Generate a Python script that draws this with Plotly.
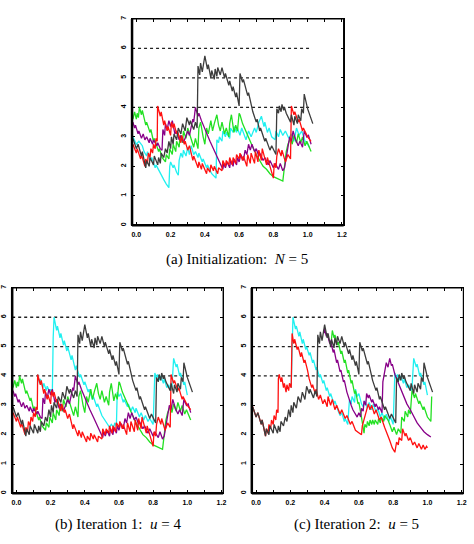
import plotly.graph_objects as go

# ---------------- data ----------------
gray_path = [(-0.02,2.95),(0.0,2.6),(0.01,2.75),(0.03,2.35),(0.035,2.5),(0.055,1.95),(0.06,2.2),(0.075,2.0),(0.08,2.3),(0.1,2.05),(0.105,2.35),(0.125,2.05),(0.13,2.3),(0.14,2.1),(0.145,2.45),(0.16,2.3),(0.17,2.6),(0.18,2.45),(0.19,2.85),(0.2,2.6),(0.205,3.0),(0.215,2.75),(0.22,3.1),(0.235,2.9),(0.245,3.3),(0.26,3.1),(0.27,3.45),(0.285,3.2),(0.295,3.65),(0.31,3.4),(0.315,3.55),(0.335,3.25),(0.345,3.5),(0.355,3.3),(0.36,5.4),(0.37,5.1),(0.375,5.5),(0.385,5.2),(0.4,5.75),(0.415,5.3),(0.42,5.45),(0.435,5.0),(0.44,5.25),(0.455,4.95),(0.46,5.3),(0.47,5.05),(0.475,5.35),(0.49,5.1),(0.5,5.35),(0.515,5.0),(0.52,5.15),(0.54,4.75),(0.545,4.9),(0.56,4.55),(0.565,4.7),(0.58,4.35),(0.585,4.5),(0.6,4.05),(0.605,5.15),(0.62,4.85),(0.625,4.95),(0.65,4.4),(0.655,4.5),(0.68,3.85),(0.7,3.5),(0.705,3.6),(0.72,3.2),(0.725,3.3),(0.75,2.85),(0.755,2.95),(0.78,2.55),(0.79,2.7),(0.815,2.4),(0.82,3.95),(0.83,3.8),(0.835,4.05),(0.845,3.85),(0.85,4.1),(0.86,3.9),(0.865,4.0),(0.875,3.8),(0.9,3.5),(0.905,3.75),(0.92,3.4),(0.925,3.7),(0.94,3.45),(0.945,3.75),(0.96,3.55),(0.965,3.95),(0.975,3.8),(0.98,4.45),(1.0,3.95),(1.03,3.45)]

red_path = [(-0.02,2.75),(0.0,2.45),(0.005,2.6),(0.025,2.25),(0.03,2.4),(0.05,2.0),(0.055,2.25),(0.065,2.1),(0.07,2.45),(0.08,2.3),(0.085,2.6),(0.095,2.45),(0.1,2.75),(0.11,2.6),(0.115,2.95),(0.122,2.85),(0.124,4.05),(0.14,3.7),(0.145,3.85),(0.16,3.4),(0.165,3.55),(0.18,3.2),(0.185,3.35),(0.2,3.05),(0.205,3.5),(0.215,3.3),(0.22,3.45),(0.235,3.1),(0.24,3.2),(0.26,2.8),(0.265,3.05),(0.28,2.75),(0.285,2.85),(0.3,2.55),(0.31,2.7),(0.33,2.2),(0.335,2.35),(0.36,1.95),(0.365,2.15),(0.38,1.9),(0.385,2.1),(0.41,1.75),(0.415,1.95),(0.43,1.8),(0.435,2.05),(0.45,1.85),(0.455,2.0),(0.475,1.75),(0.48,1.95),(0.5,1.85),(0.505,2.2),(0.52,2.0),(0.525,2.2),(0.54,2.05),(0.545,2.3),(0.56,2.05),(0.565,2.3),(0.58,2.1),(0.585,2.4),(0.6,2.25),(0.605,2.45),(0.62,2.2),(0.625,2.35),(0.645,2.0),(0.65,2.4),(0.665,2.1),(0.67,2.45),(0.69,2.1),(0.695,2.5),(0.71,2.15),(0.715,2.55),(0.73,2.2),(0.735,2.6),(0.76,2.05),(0.765,2.3),(0.79,1.8),(0.8,1.6),(0.805,2.1),(0.815,1.95),(0.82,2.35),(0.83,2.6),(0.845,2.35),(0.85,2.55),(0.87,2.15),(0.885,2.4),(0.9,2.25),(0.905,4.05),(0.92,3.75),(0.925,3.85),(0.945,3.5),(0.95,3.6),(0.97,3.2),(0.975,3.3),(1.0,3.0),(1.02,2.85)]

green_path = [(-0.02,3.6),(-0.01,3.85),(0.0,3.6),(0.005,3.8),(0.012,3.65),(0.018,4.0),(0.03,3.75),(0.035,3.9),(0.055,3.4),(0.06,3.5),(0.08,3.15),(0.085,3.25),(0.1,2.85),(0.105,2.95),(0.13,2.5),(0.135,2.6),(0.15,2.3),(0.17,2.15),(0.175,2.4),(0.19,2.25),(0.195,2.6),(0.21,2.4),(0.215,2.75),(0.23,2.5),(0.235,2.85),(0.25,2.65),(0.255,3.05),(0.27,2.8),(0.275,3.2),(0.29,2.95),(0.3,3.3),(0.32,2.9),(0.335,2.65),(0.345,2.95),(0.36,2.6),(0.365,3.3),(0.375,3.5),(0.39,3.0),(0.4,2.75),(0.41,3.3),(0.42,3.1),(0.435,3.55),(0.445,3.2),(0.455,3.45),(0.47,3.75),(0.48,3.4),(0.49,3.2),(0.5,3.5),(0.515,3.1),(0.525,3.3),(0.54,3.0),(0.545,3.45),(0.555,3.75),(0.565,3.35),(0.57,3.15),(0.58,3.4),(0.59,3.2),(0.6,3.8),(0.605,3.75),(0.62,3.45),(0.635,3.25),(0.65,3.0),(0.665,2.85),(0.68,2.65),(0.7,2.4),(0.72,2.2),(0.74,2.0),(0.76,1.9),(0.78,1.75),(0.8,1.65),(0.82,1.6),(0.84,1.55),(0.855,1.5),(0.865,2.0),(0.875,2.5),(0.885,2.75),(0.9,2.95),(0.91,2.75),(0.92,3.05),(0.935,2.8),(0.945,3.1),(0.96,2.8),(0.97,3.0),(0.985,2.7),(0.995,2.85),(1.02,2.5)]

purple_path = [(-0.02,3.5),(-0.01,3.3),(-0.005,3.4),(0.01,3.1),(0.015,3.2),(0.03,2.95),(0.04,3.1),(0.05,2.9),(0.06,3.0),(0.075,2.8),(0.08,2.95),(0.095,2.75),(0.1,2.9),(0.12,2.7),(0.125,2.8),(0.14,2.6),(0.15,2.55),(0.155,3.25),(0.165,3.05),(0.17,3.45),(0.18,3.25),(0.19,3.55),(0.2,3.35),(0.21,3.55),(0.225,3.1),(0.235,3.2),(0.25,2.9),(0.26,3.05),(0.275,2.8),(0.29,3.05),(0.3,3.2),(0.31,3.05),(0.32,3.4),(0.33,3.6),(0.335,3.5),(0.345,4.0),(0.36,3.7),(0.365,3.8),(0.38,3.55),(0.39,3.4),(0.41,3.15),(0.43,2.85),(0.45,2.6),(0.47,2.35),(0.48,2.2),(0.495,2.0),(0.505,1.9),(0.51,2.1),(0.52,1.95),(0.53,2.15),(0.545,1.95),(0.55,2.2),(0.565,2.0),(0.57,2.25),(0.585,2.05),(0.59,2.3),(0.6,2.15),(0.61,2.4),(0.625,2.2),(0.635,2.55),(0.645,2.4),(0.655,2.75),(0.665,2.55),(0.675,2.75),(0.69,2.5),(0.7,2.6),(0.715,2.35),(0.72,2.45),(0.74,2.2),(0.75,2.3),(0.77,2.05),(0.78,2.2),(0.8,1.95),(0.81,2.1),(0.83,1.9),(0.84,2.1),(0.855,1.85),(0.865,1.95),(0.875,2.35),(0.885,2.75),(0.895,3.0),(0.905,2.85),(0.915,3.2),(0.93,2.9),(0.945,2.7),(0.955,2.85),(0.97,2.65),(0.98,3.2),(0.995,3.0),(1.005,3.05),(1.02,2.75)]

cyan_a_path = [(-0.02,3.0),(0.0,2.75),(0.015,2.85),(0.035,2.7),(0.045,2.5),(0.06,2.35),(0.065,2.5),(0.08,2.2),(0.09,2.3),(0.11,1.95),(0.115,2.05),(0.14,1.75),(0.16,1.55),(0.175,1.4),(0.19,1.28),(0.195,2.0),(0.2,2.15),(0.215,1.95),(0.22,2.05),(0.235,1.8),(0.245,1.7),(0.25,2.2),(0.26,2.45),(0.27,2.3),(0.275,2.55),(0.29,2.35),(0.3,2.65),(0.31,2.4),(0.32,2.7),(0.335,2.4),(0.345,2.5),(0.36,2.3),(0.365,2.45),(0.385,2.15),(0.39,2.25),(0.41,1.95),(0.415,2.05),(0.44,1.75),(0.455,1.65),(0.465,1.6),(0.47,2.9),(0.48,2.8),(0.485,3.0),(0.5,2.85),(0.505,3.2),(0.52,3.0),(0.525,3.15),(0.545,2.95),(0.55,3.3),(0.565,3.15),(0.57,3.35),(0.585,3.15),(0.59,3.3),(0.605,3.05),(0.615,3.3),(0.63,3.05),(0.64,2.9),(0.655,3.2),(0.67,3.0),(0.69,3.3),(0.7,3.15),(0.715,3.5),(0.73,3.7),(0.745,3.35),(0.75,3.5),(0.765,3.15),(0.775,3.3),(0.79,3.0),(0.81,2.9),(0.815,3.2),(0.83,3.0),(0.84,3.25),(0.855,3.05),(0.87,3.2),(0.89,2.95),(0.905,3.1),(0.92,2.85),(0.935,3.3),(0.95,3.05),(0.965,3.2),(0.985,2.85),(1.0,2.75),(1.01,2.65)]

cyan_tail = [(0.81,4.1),(0.82,3.9),(0.825,4.05),(0.84,3.85),(0.845,4.0),(0.86,3.75),(0.865,3.9),(0.88,3.6),(0.89,3.7),(0.905,3.5),(0.91,3.6),(0.92,4.6),(0.935,4.3),(0.94,4.4),(0.955,4.0),(0.96,4.1),(0.98,3.7),(0.985,3.8),(1.0,3.35)]

cyan_b_head = [(0.124,4.05),(0.135,3.75),(0.14,3.9),(0.155,3.6),(0.16,3.75),(0.175,3.5),(0.18,3.65),(0.195,3.45),(0.2,3.55),(0.21,3.4),(0.215,5.3),(0.22,6.0),(0.235,5.55),(0.24,5.7),(0.255,5.3),(0.26,5.45),(0.275,5.05),(0.28,5.2),(0.295,4.85),(0.3,5.0),(0.32,4.55),(0.325,4.7),(0.345,4.2),(0.35,4.35),(0.37,3.95),(0.375,4.05),(0.395,3.7),(0.4,3.8),(0.42,3.45),(0.425,3.55),(0.445,3.2),(0.45,3.3),(0.47,2.95),(0.475,3.05),(0.5,2.65),(0.52,2.45),(0.535,2.3),(0.545,2.25),(0.555,2.35),(0.57,2.25),(0.575,2.4),(0.585,2.3),(0.59,3.45),(0.6,3.3),(0.61,3.4),(0.625,3.1),(0.63,3.2),(0.65,2.95),(0.655,3.05),(0.67,2.8),(0.68,2.95),(0.695,2.75),(0.7,2.9),(0.72,2.6),(0.73,2.75),(0.745,2.5),(0.755,2.65),(0.77,2.45),(0.78,2.55),(0.8,2.35)]

red_c_path = [(-0.02,2.95),(0.0,2.6),(0.01,2.75),(0.03,2.35),(0.035,2.5),(0.055,1.95),(0.06,2.2),(0.07,2.05),(0.075,2.35),(0.085,2.2),(0.09,2.5),(0.1,2.35),(0.105,2.65),(0.115,2.5),(0.12,2.85),(0.128,2.75),(0.13,3.9),(0.135,4.05),(0.145,3.8),(0.15,3.95),(0.16,3.6),(0.165,3.75),(0.175,3.45),(0.18,3.7),(0.19,3.5),(0.195,3.75),(0.205,3.6),(0.21,5.45),(0.22,5.1),(0.225,5.25),(0.24,4.9),(0.245,5.0),(0.26,4.65),(0.265,4.8),(0.28,4.45),(0.285,4.55),(0.3,4.2),(0.31,3.9),(0.325,3.6),(0.33,3.7),(0.345,3.4),(0.35,3.55),(0.365,3.2),(0.375,3.35),(0.39,3.05),(0.4,3.2),(0.415,2.95),(0.42,3.3),(0.435,3.0),(0.445,3.2),(0.46,2.85),(0.47,3.0),(0.49,2.7),(0.5,2.85),(0.52,2.55),(0.53,2.65),(0.55,2.35),(0.56,2.45),(0.58,2.15),(0.6,2.05),(0.615,2.0),(0.62,2.3),(0.635,2.6),(0.645,2.8),(0.655,3.05),(0.665,2.85),(0.675,3.0),(0.69,2.7),(0.7,2.85),(0.72,2.5),(0.73,2.6),(0.75,2.25),(0.765,2.05),(0.78,1.8),(0.795,1.55),(0.81,1.4),(0.82,1.75),(0.83,1.65),(0.835,1.9),(0.85,1.8),(0.855,2.2),(0.87,1.95),(0.875,2.05),(0.89,1.8),(0.9,1.9),(0.915,1.65),(0.925,1.75),(0.94,1.55),(0.95,1.7),(0.965,1.5),(0.975,1.65),(0.985,1.5),(0.995,1.6),(1.0,1.55)]

cyan_c_head = [(0.205,3.6),(0.215,6.0),(0.23,5.6),(0.235,5.7),(0.25,5.35),(0.255,5.5),(0.27,5.1),(0.275,5.25),(0.29,4.9),(0.295,5.0),(0.31,4.7),(0.315,4.8),(0.33,4.45),(0.335,4.55),(0.35,4.2),(0.355,4.3),(0.37,3.95),(0.375,4.05),(0.39,3.75),(0.395,3.85),(0.41,3.5),(0.415,3.6),(0.43,3.3),(0.435,3.4),(0.455,3.05),(0.46,3.15),(0.48,2.8),(0.49,2.65),(0.5,2.75),(0.515,2.45),(0.52,2.55),(0.535,2.35),(0.545,3.2),(0.555,3.05),(0.56,3.3),(0.575,3.1),(0.58,3.55),(0.59,3.3),(0.6,3.4),(0.615,3.05),(0.625,2.95),(0.635,3.15),(0.65,2.9),(0.66,3.1),(0.675,2.85),(0.685,3.05),(0.7,2.75),(0.71,2.9),(0.725,2.6),(0.735,2.75),(0.75,2.5),(0.76,2.7),(0.775,2.45),(0.785,2.6),(0.8,2.35)]

green_c_path = [(0.44,5.25),(0.445,5.55),(0.455,5.3),(0.46,5.4),(0.475,5.05),(0.48,5.15),(0.495,4.75),(0.5,4.85),(0.515,4.45),(0.52,4.55),(0.535,4.1),(0.54,4.2),(0.555,3.75),(0.56,3.85),(0.575,3.4),(0.58,3.5),(0.595,3.05),(0.6,3.1),(0.615,2.6),(0.625,2.3),(0.63,2.05),(0.635,2.35),(0.645,2.25),(0.65,2.45),(0.66,2.3),(0.665,2.5),(0.675,2.35),(0.68,2.5),(0.69,2.35),(0.695,2.5),(0.71,2.35),(0.715,2.55),(0.725,2.4),(0.73,2.6),(0.745,2.45),(0.75,2.65),(0.77,2.5),(0.78,2.35),(0.795,2.1),(0.805,2.25),(0.82,2.0),(0.83,2.2),(0.845,2.05),(0.85,2.6),(0.865,2.45),(0.87,2.8),(0.885,2.6),(0.89,2.85),(0.9,2.7),(0.91,3.5),(0.925,3.25),(0.93,3.4),(0.95,3.05),(0.955,3.15),(0.975,2.85),(0.98,2.95),(1.0,2.6),(1.02,2.45),(1.025,3.3)]

purple_c_path = [(0.395,5.45),(0.4,5.6),(0.41,5.35),(0.415,5.45),(0.43,5.1),(0.435,5.2),(0.45,4.8),(0.455,4.9),(0.47,4.45),(0.475,4.55),(0.49,4.15),(0.495,4.2),(0.51,3.8),(0.515,3.85),(0.53,3.45),(0.54,3.25),(0.555,3.0),(0.565,2.85),(0.58,2.7),(0.59,2.6),(0.6,2.75),(0.61,2.6),(0.615,2.9),(0.625,2.8),(0.63,3.15),(0.64,3.0),(0.645,3.4),(0.655,3.25),(0.66,3.35),(0.675,3.1),(0.68,3.2),(0.695,2.95),(0.7,3.05),(0.715,2.85),(0.72,2.95),(0.735,2.75),(0.74,3.8),(0.75,4.1),(0.76,4.45),(0.77,4.3),(0.78,4.6),(0.79,4.35),(0.795,4.4),(0.81,4.05),(0.82,3.9),(0.835,3.7),(0.85,3.45),(0.865,3.25),(0.88,3.05),(0.9,2.85),(0.92,2.6),(0.94,2.4),(0.96,2.25),(0.98,2.1),(1.0,2.0),(1.02,1.92)]

thresholds = [4, 5, 6]
threshold_x = [-0.025, 1.02]
x_ticks = [0.0, 0.2, 0.4, 0.6, 0.8, 1.0, 1.2]
x_tick_labels = ["0.0", "0.2", "0.4", "0.6", "0.8", "1.0", "1.2"]
y_ticks = [0, 1, 2, 3, 4, 5, 6, 7]
captions = ["(a) Initialization:&nbsp; <i>N</i> = 5",
            "(b) Iteration 1:&nbsp; <i>u</i> = 4",
            "(c) Iteration 2:&nbsp; <i>u</i> = 5"]

COLORS = {"gray": "#3c3c3c", "red": "#ff1010", "green": "#22e022",
          "cyan": "#20f0f0", "purple": "#880088"}

panels = [
    [("cyan", cyan_a_path), ("green", green_path), ("purple", purple_path),
     ("red", red_path), ("gray", gray_path)],
    [("cyan", cyan_b_head + cyan_tail), ("green", green_path), ("purple", purple_path),
     ("red", red_path), ("gray", gray_path)],
    [("cyan", cyan_c_head + cyan_tail), ("green", green_c_path), ("purple", purple_c_path),
     ("red", red_c_path), ("gray", gray_path)],
]

W, H = 474, 544
domains = [
    ((130.7 / W, 345 / W), (1 - 224 / H, 1 - 16 / H)),
    ((9.3 / W, 223 / W), (1 - 494 / H, 1 - 287 / H)),
    ((252 / W, 466.3 / W), (1 - 494 / H, 1 - 287 / H)),
]
caption_pos = [(237.5 / W, 1 - 258 / H), (116 / W, 1 - 525 / H), (358.5 / W, 1 - 525 / H)]

fig = go.Figure()
tickfont = dict(family="Liberation Sans", size=7, color="black", weight="bold")

for i, series in enumerate(panels):
    xa = "x" if i == 0 else f"x{i+1}"
    ya = "y" if i == 0 else f"y{i+1}"
    for t in thresholds:
        fig.add_trace(go.Scatter(x=threshold_x, y=[t, t], mode="lines", xaxis=xa, yaxis=ya,
                                 line=dict(color="#222222", width=1.3, dash="dot"),
                                 showlegend=False, hoverinfo="skip"))
    for cname, path in series:
        fig.add_trace(go.Scatter(x=[p[0] for p in path], y=[p[1] for p in path],
                                 mode="lines", xaxis=xa, yaxis=ya,
                                 line=dict(color=COLORS[cname], width=1.3),
                                 showlegend=False))
    xk = "xaxis" if i == 0 else f"xaxis{i+1}"
    yk = "yaxis" if i == 0 else f"yaxis{i+1}"
    (dx, dy) = domains[i]
    fig.update_layout({
        xk: dict(domain=list(dx), range=[-0.025, 1.21], anchor=ya,
                 tickvals=x_ticks, ticktext=x_tick_labels, ticks="inside", ticklen=3,
                 tickwidth=1, tickcolor="black",
                 minor=dict(dtick=0.1, tick0=0, ticks="inside", ticklen=3, tickcolor="black"),
                 showline=True, linecolor="black", linewidth=1, mirror="ticks",
                 showgrid=False, zeroline=False, tickfont=tickfont, ticklabelstandoff=2),
        yk: dict(domain=list(dy), range=[0, 7], anchor=xa,
                 tickvals=y_ticks, ticks="inside", ticklen=3, tickwidth=1, tickcolor="black",
                 tickangle=-90,
                 showline=True, linecolor="black", linewidth=1, mirror="ticks",
                 showgrid=False, zeroline=False, tickfont=tickfont, ticklabelstandoff=2),
    })
    xr = f"{xa} domain"
    yr = f"{ya} domain"
    # thin top / right frame
    fig.add_shape(type="line", xref=xr, yref=yr, x0=0, x1=1, y0=1, y1=1,
                  line=dict(color="black", width=1.2))
    fig.add_shape(type="line", xref=xr, yref=yr, x0=1, x1=1, y0=0, y1=1,
                  line=dict(color="black", width=1.2))
    # thick left / bottom frame
    fig.add_shape(type="line", xref=xr, yref=yr, x0=0, x1=0, y0=0, y1=1,
                  line=dict(color="black", width=2.5))
    fig.add_shape(type="line", xref=xr, yref=yr, x0=0, x1=1, y0=0, y1=0,
                  line=dict(color="black", width=2.5))
    fig.add_annotation(x=caption_pos[i][0], y=caption_pos[i][1], xref="paper", yref="paper",
                       text=captions[i], showarrow=False, xanchor="center", yanchor="middle",
                       font=dict(family="Liberation Serif", size=15, color="black"))

fig.update_layout(width=W, height=H, margin=dict(l=0, r=0, t=0, b=0),
                  paper_bgcolor="white", plot_bgcolor="white")
fig.write_html("out.html")
